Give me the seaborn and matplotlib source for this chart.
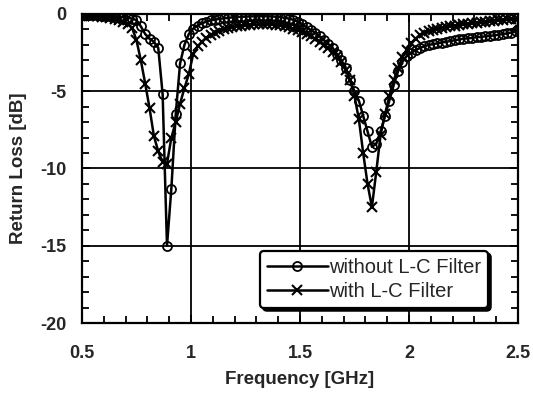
import numpy as np
import pandas as pd
import matplotlib
matplotlib.use("Agg")
import matplotlib.pyplot as plt
from matplotlib.ticker import MultipleLocator
import seaborn as sns

freq = [0.50, 0.51, 0.53, 0.55, 0.57, 0.59, 0.61, 0.63, 0.65, 0.67, 0.69,
        0.71, 0.73, 0.75, 0.77, 0.79, 0.81, 0.83, 0.85, 0.87, 0.89,
        0.91, 0.93, 0.95, 0.97, 0.99, 1.01, 1.03, 1.05, 1.07, 1.09,
        1.11, 1.13, 1.15, 1.17, 1.19, 1.21, 1.23, 1.25, 1.27, 1.29,
        1.31, 1.33, 1.35, 1.37, 1.39, 1.41, 1.43, 1.45, 1.47, 1.49,
        1.51, 1.53, 1.55, 1.57, 1.59, 1.61, 1.63, 1.65, 1.67, 1.69,
        1.71, 1.73, 1.75, 1.77, 1.79, 1.81, 1.83, 1.85, 1.87, 1.89,
        1.91, 1.93, 1.95, 1.97, 1.99, 2.01, 2.03, 2.05, 2.07, 2.09,
        2.11, 2.13, 2.15, 2.17, 2.19, 2.21, 2.23, 2.25, 2.27, 2.29,
        2.31, 2.33, 2.35, 2.37, 2.39, 2.41, 2.43, 2.45, 2.47, 2.49, 2.50]

rl_without = [-0.05, -0.05, -0.05, -0.08, -0.08, -0.10, -0.10, -0.12, -0.15, -0.18, -0.20,
              -0.25, -0.30, -0.40, -0.80, -1.30, -1.60, -1.80, -2.20, -5.20, -15.0,
              -11.3, -6.5, -3.2, -2.0, -1.3, -0.95, -0.75, -0.60, -0.50, -0.42,
              -0.36, -0.32, -0.28, -0.25, -0.22, -0.20, -0.18, -0.17, -0.16, -0.15,
              -0.15, -0.15, -0.15, -0.16, -0.18, -0.20, -0.25, -0.30, -0.38, -0.50,
              -0.65, -0.85, -1.05, -1.20, -1.45, -1.70, -1.95, -2.20, -2.60, -3.00,
              -3.50, -4.30, -5.00, -5.60, -6.60, -7.60, -8.60, -8.40, -7.60, -6.60,
              -5.60, -4.60, -3.70, -3.10, -2.70, -2.50, -2.35, -2.20, -2.10, -2.00,
              -1.95, -1.90, -1.85, -1.80, -1.75, -1.70, -1.65, -1.60, -1.58, -1.55,
              -1.50, -1.48, -1.45, -1.42, -1.38, -1.35, -1.30, -1.25, -1.20, -1.10, -1.00]

rl_with = [-0.10, -0.10, -0.10, -0.12, -0.15, -0.18, -0.20, -0.25, -0.30, -0.40, -0.50,
           -0.65, -0.90, -1.70, -3.00, -4.50, -6.10, -7.90, -8.90, -9.60, -9.70,
           -8.00, -7.00, -5.80, -4.80, -3.90, -2.60, -2.10, -1.80, -1.55, -1.35,
           -1.20, -1.08, -1.00, -0.92, -0.86, -0.80, -0.76, -0.72, -0.70, -0.68,
           -0.67, -0.66, -0.66, -0.67, -0.70, -0.74, -0.80, -0.87, -0.95, -1.05,
           -1.15, -1.30, -1.45, -1.60, -1.80, -2.00, -2.20, -2.45, -2.75, -3.10,
           -3.60, -4.30, -5.30, -6.80, -9.00, -11.0, -12.5, -10.2, -7.80, -6.50,
           -5.30, -4.30, -3.50, -2.80, -2.30, -1.90, -1.60, -1.35, -1.20, -1.10,
           -1.02, -0.95, -0.90, -0.85, -0.80, -0.76, -0.72, -0.68, -0.64, -0.60,
           -0.57, -0.54, -0.50, -0.47, -0.44, -0.41, -0.38, -0.35, -0.32, -0.30, -0.30]

series_names = ["without L-C Filter", "with L-C Filter"]
x_ticks = [0.5, 1, 1.5, 2, 2.5]
x_tick_labels = ["0.5", "1", "1.5", "2", "2.5"]
y_ticks = [0, -5, -10, -15, -20]
y_tick_labels = ["0", "-5", "-10", "-15", "-20"]

df_without = pd.DataFrame({"Frequency": freq, "RL": rl_without})
df_with = pd.DataFrame({"Frequency": freq, "RL": rl_with})

sns.set_style("ticks")
plt.rcParams["font.family"] = ["Liberation Sans", "DejaVu Sans"]

fig = plt.figure(figsize=(5.33, 3.94), dpi=100)
ax = fig.add_axes([0.1538, 0.1802, 0.818, 0.7843])

ax.grid(True, which="major", color="black", linewidth=1.3)
ax.set_axisbelow(True)

sns.lineplot(data=df_without, x="Frequency", y="RL", color="black",
             estimator=None, sort=False, linewidth=1.8,
             marker="o", markersize=6.5, markerfacecolor="none",
             markeredgecolor="black", markeredgewidth=1.3,
             label=series_names[0], legend=False, ax=ax)
sns.lineplot(data=df_with, x="Frequency", y="RL", color="black",
             estimator=None, sort=False, linewidth=1.8,
             marker="x", markersize=7.5, markeredgecolor="black",
             markeredgewidth=1.5,
             label=series_names[1], legend=False, ax=ax)

ax.set_xlim(0.5, 2.5)
ax.set_ylim(-20, 0)
ax.set_xticks(x_ticks)
ax.set_xticklabels(x_tick_labels, fontsize=13, fontweight="bold")
ax.set_yticks(y_ticks)
ax.set_yticklabels(y_tick_labels, fontsize=13, fontweight="bold")
ax.xaxis.set_minor_locator(MultipleLocator(0.1))
ax.yaxis.set_minor_locator(MultipleLocator(1))
ax.tick_params(which="both", direction="in", top=True, right=True,
               color="black", width=1.3)
ax.tick_params(axis="x", which="major", length=6, pad=16)
ax.tick_params(axis="y", which="major", length=6, pad=11)
ax.tick_params(which="minor", length=5)
for s in ax.spines.values():
    s.set_color("black")
    s.set_linewidth(1.6)

ax.set_xlabel("Frequency [GHz]", fontsize=13.5, fontweight="bold", labelpad=6)
ax.set_ylabel("Return Loss [dB]", fontsize=13.5, fontweight="bold", labelpad=10)

lines = ax.get_lines()
leg = ax.legend(lines[:2], series_names, loc="lower right",
                bbox_to_anchor=(0.931, 0.049), fontsize=14.5,
                handlelength=3.0, handletextpad=0.05, numpoints=1,
                frameon=True, fancybox=True, framealpha=1,
                edgecolor="black", borderpad=0.35, labelspacing=0.25,
                borderaxespad=0.0,
                shadow={"color": "black", "alpha": 1.0})
leg.get_frame().set_linewidth(1.6)

fig.savefig("out.png", dpi=100)
